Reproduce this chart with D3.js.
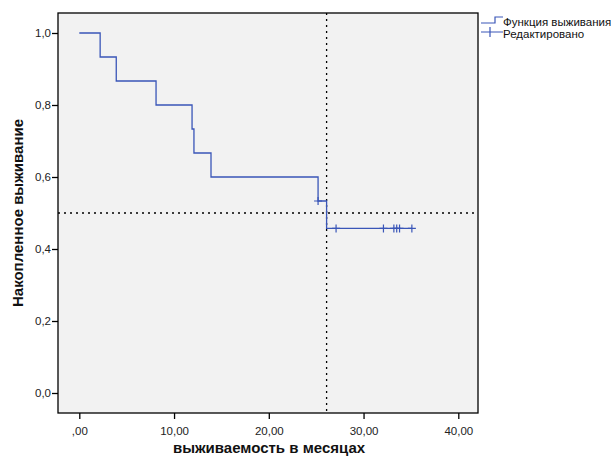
<!DOCTYPE html>
<html>
<head>
<meta charset="utf-8">
<script src="https://cdn.jsdelivr.net/npm/d3@7"></script>
<style>
  body { margin: 0; background: #fff; }
  text { font-family: "Liberation Sans", Arial, sans-serif; }
</style>
</head>
<body>
<div class="canva"></div>
<script>
// шаги кривой выживания (время, значение после шага)
const stepTimes = [0, 2.2, 3.9, 8.1, 11.9, 12.1, 13.9, 25.2, 26.1, 35.1];
const stepValues = [1.0, 0.9333, 0.8667, 0.8, 0.7333, 0.6667, 0.6, 0.5333, 0.4571, 0.4571];
// цензурированные наблюдения
const censorTimes = [25.2, 27.1, 32.1, 33.2, 33.5, 33.8, 35.1];
const censorValues = [0.5333, 0.4571, 0.4571, 0.4571, 0.4571, 0.4571, 0.4571];
const medianTime = 26.1;
const xTicks = [0, 10, 20, 30, 40];
const xTickLabels = [",00", "10,00", "20,00", "30,00", "40,00"];
const yTicks = [0, 0.2, 0.4, 0.6, 0.8, 1.0];
const yTickLabels = ["0,0", "0,2", "0,4", "0,6", "0,8", "1,0"];
const legendLabels = ["Функция выживания", "Редактировано"];

document.addEventListener("DOMContentLoaded", function() {
  const W = 611, H = 457;
  const frame = { left: 58, top: 13, right: 478, bottom: 413 };
  const blue = "#3a56b8";

  const svg = d3.select(".canva").append("svg")
    .attr("width", W).attr("height", H);

  const x = d3.scaleLinear().domain([0, 40]).range([79.3, 458.3]);
  const y = d3.scaleLinear().domain([0, 1]).range([393, 33]);

  // фон области графика
  svg.append("rect")
    .attr("x", frame.left).attr("y", frame.top)
    .attr("width", frame.right - frame.left).attr("height", frame.bottom - frame.top)
    .attr("fill", "#f2f2f2").attr("stroke", "#000").attr("stroke-width", 1.3);

  // оси
  const xAxis = d3.axisBottom(x).tickValues(xTicks).tickSize(6)
    .tickFormat((d, i) => xTickLabels[i]);
  const gx = svg.append("g").attr("transform", `translate(0,${frame.bottom})`).call(xAxis);
  gx.select(".domain").remove();
  gx.selectAll("line").attr("stroke", "#000").attr("stroke-width", 1.3);
  gx.selectAll("text").attr("font-size", 11.5).attr("fill", "#222").attr("dy", "1.15em");

  const yAxis = d3.axisLeft(y).tickValues(yTicks).tickSize(6)
    .tickFormat((d, i) => yTickLabels[i]);
  const gy = svg.append("g").attr("transform", `translate(${frame.left},0)`).call(yAxis);
  gy.select(".domain").remove();
  gy.selectAll("line").attr("stroke", "#000").attr("stroke-width", 1.3);
  gy.selectAll("text").attr("font-size", 11.5).attr("fill", "#222").attr("x", -7);

  // линии медианы
  svg.append("line")
    .attr("x1", frame.left).attr("x2", frame.right)
    .attr("y1", y(0.5)).attr("y2", y(0.5))
    .attr("stroke", "#000").attr("stroke-width", 1.3).attr("stroke-dasharray", "2,4");
  svg.append("line")
    .attr("x1", x(medianTime)).attr("x2", x(medianTime))
    .attr("y1", frame.top).attr("y2", frame.bottom)
    .attr("stroke", "#000").attr("stroke-width", 1.3).attr("stroke-dasharray", "2,4");

  // кривая выживания
  const pts = stepTimes.map((t, i) => [t, stepValues[i]]);
  const line = d3.line().x(d => x(d[0])).y(d => y(d[1])).curve(d3.curveStepAfter);
  svg.append("path").datum(pts)
    .attr("d", line).attr("fill", "none")
    .attr("stroke", blue).attr("stroke-width", 1.3);

  // отметки цензурирования
  const cens = censorTimes.map((t, i) => [t, censorValues[i]]);
  svg.selectAll(".cens").data(cens).enter().append("path")
    .attr("class", "cens")
    .attr("d", d => `M${x(d[0])},${y(d[1]) - 4}V${y(d[1]) + 4}M${x(d[0]) - 4},${y(d[1])}H${x(d[0]) + 4}`)
    .attr("stroke", blue).attr("stroke-width", 1.2).attr("fill", "none");

  // подписи осей
  svg.append("text")
    .attr("x", 269).attr("y", 453)
    .attr("text-anchor", "middle").attr("font-size", 15).attr("font-weight", "bold")
    .attr("fill", "#111").text("выживаемость в месяцах");
  svg.append("text")
    .attr("transform", "translate(23,213) rotate(-90)")
    .attr("text-anchor", "middle").attr("font-size", 15).attr("font-weight", "bold")
    .attr("fill", "#111").text("Накопленное выживание");

  // легенда
  const lg = svg.append("g").attr("transform", "translate(481,0)");
  lg.append("path")
    .attr("d", "M0,23H14V17H22")
    .attr("stroke", blue).attr("stroke-width", 1.2).attr("fill", "none");
  lg.append("path")
    .attr("d", "M0,32H22M9,27V37")
    .attr("stroke", blue).attr("stroke-width", 1.2).attr("fill", "none");
  lg.selectAll(".lt").data(legendLabels).enter().append("text")
    .attr("class", "lt")
    .attr("x", 22).attr("y", (d, i) => 26 + i * 11.5)
    .attr("font-size", 11.5).attr("fill", "#111").text(d => d);
});
</script>
</body>
</html>
